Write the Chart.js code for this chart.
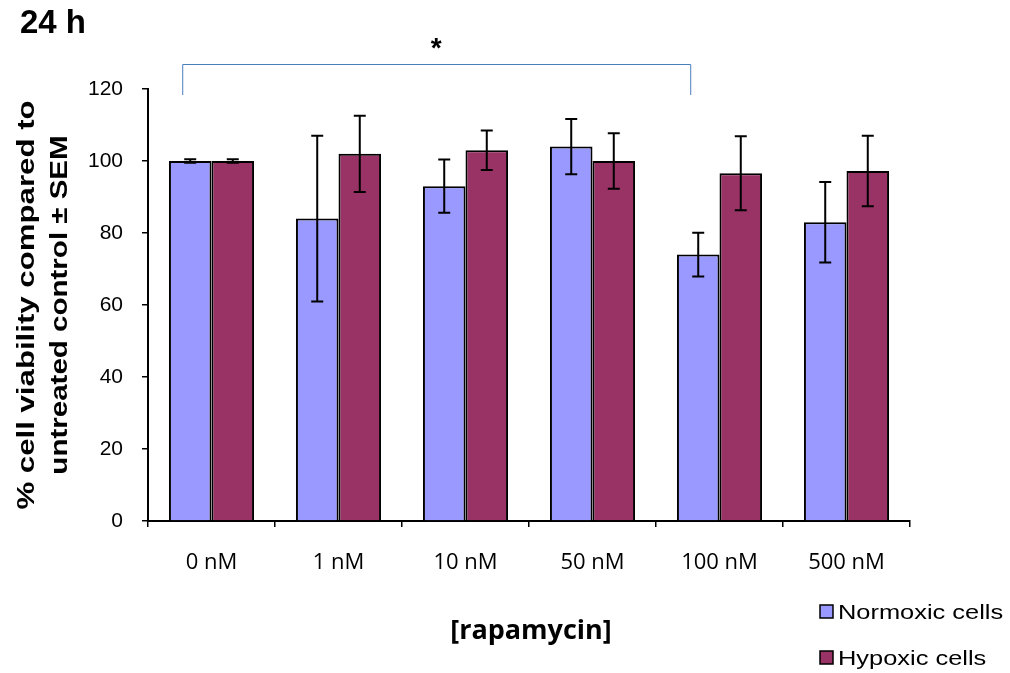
<!DOCTYPE html>
<html>
<head>
<meta charset="utf-8">
<script src="https://cdn.jsdelivr.net/npm/chart.js@4"></script>
<style>
  html, body { margin: 0; padding: 0; background: #fff; }
  #wrap { width: 1010px; height: 673px; position: relative; }
</style>
</head>
<body>
<div id="wrap"><canvas id="chart" width="1010" height="673"></canvas></div>
<script>
let categories = ["0 nM", "1 nM", "10 nM", "50 nM", "100 nM", "500 nM"];
let normoxic = [100, 84, 93, 104, 74, 83];
let normoxicErr = [0.5, 23, 7.4, 7.7, 6.1, 11.2];
let hypoxic = [100, 102, 103, 100, 96.6, 97.2];
let hypoxicErr = [0.5, 10.6, 5.5, 7.7, 10.3, 9.8];
let yTicks = [0, 20, 40, 60, 80, 100, 120];

let font = "'Liberation Sans', Arial, sans-serif";
let tickFont = "'Open Sans', sans-serif";

// error bars on top of each bar
let errorBars = {
    id: "errorBars",
    afterDatasetsDraw(chart) {
        let ctx = chart.ctx;
        let y = chart.scales.y;
        let errs = [normoxicErr, hypoxicErr];
        ctx.save();
        ctx.strokeStyle = "#000";
        ctx.lineWidth = 2;
        chart.data.datasets.forEach((ds, di) => {
            let meta = chart.getDatasetMeta(di);
            meta.data.forEach((bar, i) => {
                let v = ds.data[i];
                let e = errs[di][i];
                let top = y.getPixelForValue(v + e);
                let bot = y.getPixelForValue(v - e);
                ctx.beginPath();
                ctx.moveTo(bar.x, top);
                ctx.lineTo(bar.x, bot);
                ctx.moveTo(bar.x - 6, top);
                ctx.lineTo(bar.x + 6, top);
                ctx.moveTo(bar.x - 6, bot);
                ctx.lineTo(bar.x + 6, bot);
                ctx.stroke();
            });
        });
        ctx.restore();
    },
};

// titles, significance bracket and legend
let decorations = {
    id: "decorations",
    afterDraw(chart) {
        let ctx = chart.ctx;
        ctx.save();
        ctx.fillStyle = "#000";

        ctx.font = "bold 33px " + font;
        ctx.textAlign = "left";
        ctx.textBaseline = "middle";
        ctx.fillText("24 h", 20, 24);

        // bracket between 0 nM and 100 nM normoxic bars
        let meta = chart.getDatasetMeta(0);
        let x1 = meta.data[0].x - 8;
        let x2 = meta.data[4].x - 8;
        ctx.strokeStyle = "#4a7ebb";
        ctx.lineWidth = 1;
        ctx.beginPath();
        ctx.moveTo(x1 + 0.5, 95);
        ctx.lineTo(x1 + 0.5, 64.5);
        ctx.lineTo(x2 + 0.5, 64.5);
        ctx.lineTo(x2 + 0.5, 95);
        ctx.stroke();
        ctx.font = "bold 28px " + font;
        ctx.textAlign = "center";
        ctx.fillText("*", (x1 + x2) / 2, 49);

        // y axis title (stretched along the text direction like the original)
        ctx.save();
        ctx.translate(0, 305);
        ctx.rotate(-Math.PI / 2);
        ctx.scale(1.3, 1);
        ctx.font = "bold 24px " + font;
        ctx.textAlign = "center";
        ctx.textBaseline = "alphabetic";
        ctx.fillText("% cell viability compared to", 0, 34);
        ctx.scale(1 / 1.3, 1);
        ctx.scale(1.23, 1);
        ctx.fillText("untreated control \u00b1 SEM", 0, 67);
        ctx.restore();

        // x axis title
        ctx.font = "bold 27px " + tickFont;
        ctx.textAlign = "center";
        ctx.textBaseline = "middle";
        ctx.fillText("[rapamycin]", 531, 631);

        // legend
        let items = [
            { label: "Normoxic cells", color: "#9999ff", y: 612 },
            { label: "Hypoxic cells", color: "#993366", y: 658 },
        ];
        ctx.textAlign = "left";
        items.forEach((it) => {
            ctx.fillStyle = it.color;
            ctx.fillRect(820, it.y - 7, 13, 13);
            ctx.strokeStyle = "#000";
            ctx.lineWidth = 1.5;
            ctx.strokeRect(820, it.y - 7, 13, 13);
            ctx.fillStyle = "#000";
            ctx.save();
            ctx.translate(838, it.y + 1);
            ctx.scale(1.21, 1);
            ctx.font = "21px " + font;
            ctx.fillText(it.label, 0, 0);
            ctx.restore();
        });
        ctx.restore();
    },
};

new Chart(document.querySelector("#chart").getContext("2d"), {
    type: "bar",
    data: {
        labels: categories,
        datasets: [
            {
                label: "Normoxic cells",
                data: normoxic,
                backgroundColor: "#9999ff",
                borderColor: "#000",
                borderWidth: 2,
                borderSkipped: "bottom",
                categoryPercentage: 0.67,
                barPercentage: 1,
            },
            {
                label: "Hypoxic cells",
                data: hypoxic,
                backgroundColor: "#993366",
                borderColor: "#000",
                borderWidth: 2,
                borderSkipped: "bottom",
                categoryPercentage: 0.67,
                barPercentage: 1,
            },
        ],
    },
    options: {
        responsive: false,
        animation: false,
        devicePixelRatio: 1,
        layout: { padding: { left: 0, right: 100, top: 89, bottom: 0 } },
        plugins: {
            legend: { display: false },
            tooltip: { enabled: false },
        },
        scales: {
            x: {
                grid: {
                    offset: true,
                    drawOnChartArea: false,
                    drawTicks: true,
                    tickLength: 6,
                    color: "#000",
                    lineWidth: 1.5,
                },
                border: { color: "#000", width: 2 },
                ticks: {
                    color: "#000",
                    font: { family: tickFont, size: 22 },
                    padding: 23,
                    maxRotation: 0,
                },
                afterFit(axis) { axis.height = 152; },
            },
            y: {
                min: 0,
                max: 120,
                afterBuildTicks(axis) {
                    axis.ticks = yTicks.map((v) => ({ value: v }));
                },
                grid: {
                    drawOnChartArea: false,
                    drawTicks: true,
                    tickLength: 6,
                    color: "#000",
                    lineWidth: 1.5,
                },
                border: { color: "#000", width: 2 },
                ticks: {
                    color: "#000",
                    font: { family: font, size: 21 },
                    padding: 19,
                },
                afterFit(axis) { axis.width = 148; },
            },
        },
    },
    plugins: [errorBars, decorations],
});
</script>
</body>
</html>
